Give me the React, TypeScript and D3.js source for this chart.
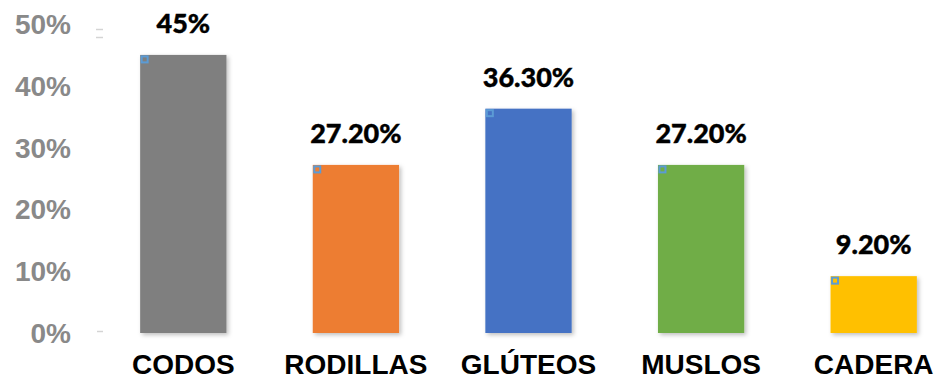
import React from "react";
import * as d3 from "d3";

const categories = ["CODOS", "RODILLAS", "GLÚTEOS", "MUSLOS", "CADERA"];
const values = [45, 27.2, 36.3, 27.2, 9.2];
const valueLabels = ["45%", "27.20%", "36.30%", "27.20%", "9.20%"];
const colors = ["#7f7f7f", "#ed7d31", "#4472c4", "#70ad47", "#ffc000"];
const yTicks = [0, 10, 20, 30, 40, 50];

const W = 940;
const H = 381;

export default function App() {
  const x = d3
    .scaleBand<string>()
    .domain(categories)
    .range([97, 960])
    .paddingInner(0.5)
    .paddingOuter(0.25);
  const y = d3.scaleLinear().domain([0, 50]).range([333, 24]);
  const bw = x.bandwidth();

  return (
    <svg
      width={W}
      height={H}
      style={{ position: "absolute", left: 0, top: 0, background: "#fff" }}
    >
      <defs>
        <filter id="shadow" x="-10%" y="-10%" width="130%" height="130%">
          <feDropShadow dx="2" dy="2" stdDeviation="2" floodColor="#000" floodOpacity="0.25" />
        </filter>
      </defs>
      {yTicks.map((t) => (
        <text
          key={t}
          x={71}
          y={y(t) + 10}
          textAnchor="end"
          fontFamily="'Liberation Sans', Arial, sans-serif"
          fontWeight="bold"
          fontSize={28}
          fill="#898989"
        >
          {t}%
        </text>
      ))}
      {/* faint axis artifacts */}
      <line x1={96} x2={103} y1={y(50) + 5.5} y2={y(50) + 5.5} stroke="#d4d4d4" strokeWidth={1.5} />
      <line x1={96} x2={103} y1={y(50) + 13.5} y2={y(50) + 13.5} stroke="#d4d4d4" strokeWidth={1.5} />
      <line x1={97} x2={103} y1={y(0) - 1.5} y2={y(0) - 1.5} stroke="#d4d4d4" strokeWidth={1.5} />
      {categories.map((c, i) => {
        const bx = x(c)!;
        const top = y(values[i]);
        return (
          <g key={c}>
            <rect
              x={bx}
              y={top}
              width={bw}
              height={y(0) - top}
              fill={colors[i]}
              filter="url(#shadow)"
            />
            <rect
              x={bx + 1.5}
              y={top + 1.5}
              width={6}
              height={6}
              fill="none"
              stroke="#5b9bd5"
              strokeWidth={2}
            />
            <text
              x={bx + bw / 2}
              y={top - 22}
              textAnchor="middle"
              fontFamily="Lato, 'Open Sans', sans-serif"
              fontWeight="900"
              fontSize={27}
              fill="#000"
              stroke="#000"
              strokeWidth={0.4}
            >
              {valueLabels[i]}
            </text>
            <text
              x={bx + bw / 2}
              y={y(0) + 41}
              textAnchor="middle"
              fontFamily="'Liberation Sans', Arial, sans-serif"
              fontWeight="bold"
              fontSize={28}
              fill="#000"
            >
              {c}
            </text>
          </g>
        );
      })}
    </svg>
  );
}
